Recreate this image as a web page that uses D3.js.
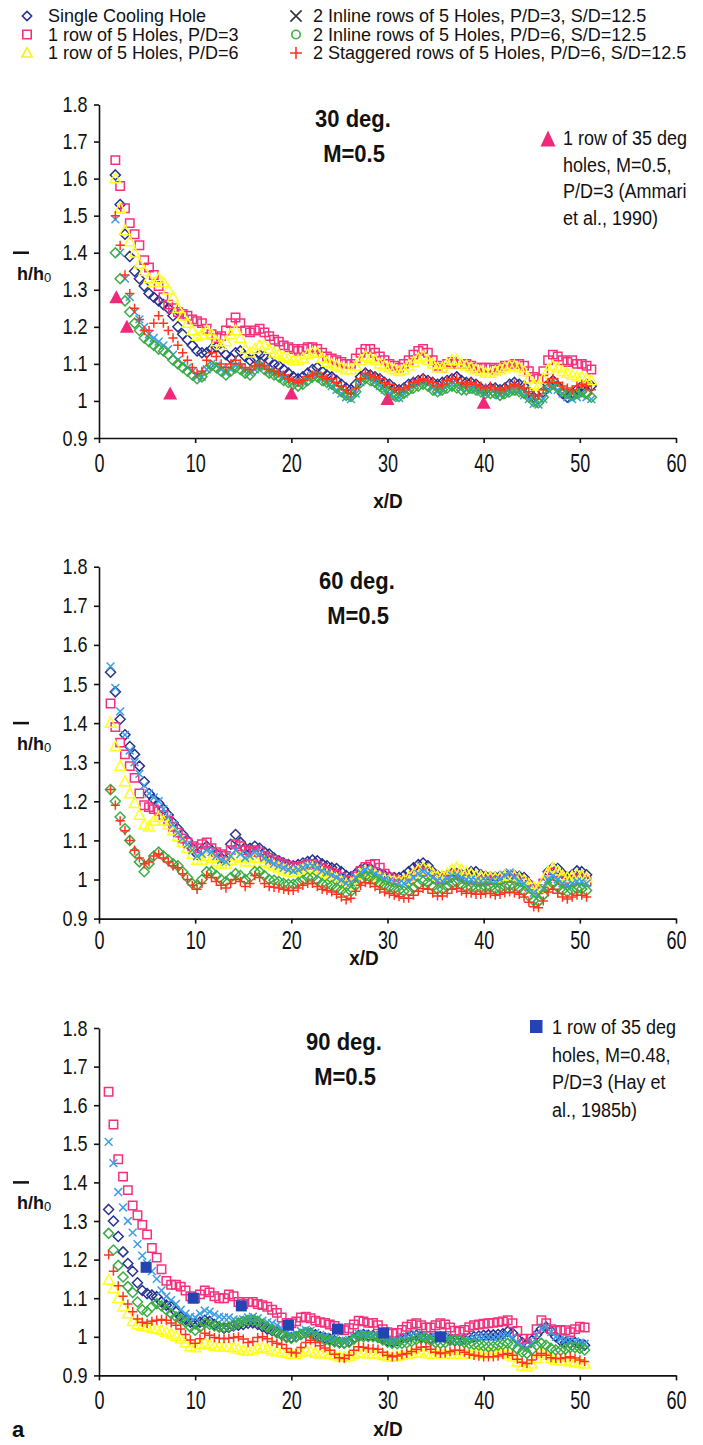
<!DOCTYPE html>
<html>
<head>
<meta charset="utf-8">
<script src="https://cdn.jsdelivr.net/npm/d3@7"></script>
<style>
  body { margin: 0; background: #fff; }
  svg text { font-family: "Liberation Sans", Arial, sans-serif; fill: #111; }
</style>
</head>
<body>
<svg id="chart" width="703" height="1445"></svg>
<script>
// ---- data ----
let seriesNames = ['Single Cooling Hole', '1 row of 5 Holes, P/D=3', '1 row of 5 Holes, P/D=6',
  '2 Inline rows of 5 Holes, P/D=3, S/D=12.5', '2 Inline rows of 5 Holes, P/D=6, S/D=12.5',
  '2 Staggered rows of 5 Holes, P/D=6, S/D=12.5']

let xTicks = [0, 10, 20, 30, 40, 50, 60]
let yTicks = [0.9, 1, 1.1, 1.2, 1.3, 1.4, 1.5, 1.6, 1.7, 1.8]
let yTickLabels = ['0.9', '1', '1.1', '1.2', '1.3', '1.4', '1.5', '1.6', '1.7', '1.8']

// first x/D of each panel's measurement grid (step 0.5)
let gridStart = [1.7, 1.2, 1.0]
let gridStep = 0.5

// 30 deg
let single30 = [1.61,1.53,1.45,1.39,1.35,1.33,1.31,1.29,1.28,1.27, 1.26,1.25,1.23,1.20,1.18,1.165,1.15,1.135,1.13,1.13, 1.14,1.145,1.14,1.125,1.115,1.13,1.135,1.12,1.11,1.115, 1.125,1.12,1.11,1.10,1.095,1.085,1.075,1.065,1.06,1.065, 1.075,1.085,1.09,1.08,1.07,1.065,1.055,1.045,1.035,1.03, 1.045,1.065,1.075,1.07,1.065,1.06,1.05,1.045,1.035,1.03, 1.035,1.045,1.05,1.055,1.06,1.055,1.05,1.045,1.05,1.055, 1.06,1.065,1.055,1.05,1.05,1.045,1.035,1.03,1.035,1.035, 1.03,1.035,1.045,1.05,1.045,1.04,1.025,1.01,1.005,1.025, 1.045,1.055,1.04,1.02,1.01,1.02,1.03,1.04,1.045,1.04]
let row3_30 = [1.65,1.58,1.52,1.48,1.45,1.42,1.38,1.36,1.34,1.31, 1.28,1.26,1.25,1.24,1.235,1.23,1.22,1.215,1.21,1.195, 1.18,1.17,1.175,1.19,1.21,1.225,1.21,1.19,1.185,1.19, 1.195,1.185,1.175,1.165,1.16,1.15,1.145,1.14,1.135,1.14, 1.145,1.145,1.14,1.13,1.12,1.115,1.11,1.105,1.10,1.10, 1.115,1.13,1.14,1.14,1.13,1.12,1.11,1.10,1.095,1.09, 1.10,1.11,1.125,1.135,1.14,1.13,1.11,1.095,1.09,1.10, 1.105,1.10,1.10,1.10,1.095,1.09,1.09,1.09,1.09,1.085, 1.09,1.095,1.095,1.10,1.10,1.095,1.08,1.065,1.06,1.08, 1.11,1.125,1.12,1.11,1.105,1.11,1.10,1.10,1.095,1.085]
let row6_30 = [1.60,1.52,1.46,1.43,1.40,1.37,1.35,1.33,1.32,1.33, 1.32,1.30,1.28,1.25,1.23,1.21,1.19,1.175,1.18,1.19, 1.18,1.16,1.15,1.16,1.18,1.19,1.17,1.14,1.13,1.14, 1.15,1.15,1.14,1.13,1.125,1.12,1.115,1.11,1.11,1.115, 1.125,1.13,1.13,1.115,1.105,1.10,1.095,1.09,1.085,1.085, 1.095,1.11,1.12,1.115,1.11,1.10,1.095,1.09,1.085,1.08, 1.085,1.095,1.105,1.115,1.12,1.11,1.10,1.09,1.09,1.10, 1.11,1.11,1.10,1.095,1.09,1.085,1.08,1.075,1.075,1.08, 1.085,1.09,1.095,1.095,1.09,1.08,1.06,1.045,1.04,1.06, 1.085,1.095,1.09,1.08,1.075,1.07,1.065,1.065,1.06,1.055]
let inline3_30 = [1.49,1.40,1.33,1.28,1.24,1.22,1.20,1.18,1.17,1.16, 1.15,1.14,1.125,1.11,1.10,1.09,1.08,1.065,1.065,1.085, 1.10,1.095,1.085,1.075,1.085,1.095,1.09,1.08,1.075,1.085, 1.095,1.09,1.08,1.075,1.07,1.06,1.055,1.05,1.045,1.05, 1.06,1.07,1.07,1.06,1.05,1.04,1.03,1.02,1.01,1.005, 1.02,1.05,1.065,1.06,1.05,1.04,1.03,1.02,1.01,1.008, 1.02,1.03,1.04,1.045,1.05,1.045,1.035,1.025,1.03,1.04, 1.045,1.04,1.035,1.03,1.035,1.03,1.025,1.02,1.02,1.02, 1.015,1.02,1.025,1.03,1.025,1.015,1.005,0.992,0.99,1.005, 1.03,1.04,1.03,1.02,1.01,1.005,1.01,1.015,1.01,1.005]
let inline6_30 = [1.40,1.33,1.27,1.24,1.21,1.19,1.17,1.16,1.15,1.14, 1.135,1.125,1.11,1.10,1.09,1.08,1.07,1.06,1.065,1.085, 1.095,1.09,1.08,1.07,1.08,1.09,1.085,1.075,1.07,1.085, 1.095,1.085,1.075,1.07,1.065,1.055,1.05,1.045,1.04,1.045, 1.055,1.065,1.065,1.055,1.05,1.045,1.035,1.025,1.015,1.012, 1.025,1.05,1.06,1.055,1.05,1.04,1.03,1.025,1.015,1.012, 1.02,1.03,1.035,1.04,1.045,1.04,1.03,1.025,1.03,1.035, 1.04,1.035,1.03,1.03,1.035,1.03,1.025,1.02,1.02,1.02, 1.015,1.02,1.025,1.03,1.025,1.02,1.01,0.998,0.995,1.01, 1.035,1.045,1.035,1.025,1.02,1.015,1.02,1.025,1.02,1.01]
let stag30 = [1.50,1.42,1.34,1.29,1.25,1.22,1.19,1.19,1.21,1.23, 1.21,1.19,1.17,1.15,1.13,1.11,1.09,1.075,1.08,1.11, 1.13,1.12,1.10,1.09,1.10,1.11,1.10,1.09,1.085,1.095, 1.10,1.095,1.085,1.08,1.075,1.07,1.06,1.055,1.05,1.055, 1.065,1.07,1.075,1.065,1.06,1.06,1.05,1.04,1.03,1.02, 1.035,1.06,1.075,1.07,1.065,1.06,1.05,1.045,1.035,1.03, 1.035,1.04,1.05,1.055,1.06,1.055,1.05,1.04,1.045,1.055, 1.06,1.06,1.05,1.045,1.05,1.045,1.04,1.035,1.04,1.035, 1.03,1.035,1.04,1.045,1.04,1.035,1.025,1.015,1.015,1.03, 1.05,1.06,1.05,1.04,1.035,1.03,1.04,1.045,1.04,1.03]

// 60 deg
let single60 = [1.53,1.48,1.41,1.37,1.34,1.32,1.29,1.25,1.22,1.205, 1.195,1.18,1.165,1.145,1.13,1.115,1.10,1.08,1.065,1.075, 1.085,1.075,1.065,1.055,1.05,1.09,1.115,1.095,1.08,1.08, 1.085,1.08,1.07,1.065,1.055,1.048,1.042,1.038,1.035,1.038, 1.042,1.046,1.05,1.048,1.04,1.035,1.03,1.028,1.02,1.01, 1.007,1.015,1.025,1.03,1.028,1.02,1.015,1.01,1.007,1.005, 1.005,1.01,1.02,1.03,1.038,1.042,1.035,1.02,1.01,1.008, 1.012,1.015,1.015,1.012,1.015,1.02,1.02,1.012,1.008,1.007, 1.006,1.008,1.01,1.012,1.01,1.008,1.005,0.99,0.978,0.973, 0.99,1.02,1.03,1.028,1.015,1.007,1.012,1.022,1.02,1.012]
let row3_60 = [1.45,1.39,1.35,1.32,1.29,1.26,1.22,1.19,1.185,1.18, 1.175,1.165,1.15,1.135,1.12,1.105,1.095,1.085,1.08,1.09, 1.095,1.08,1.07,1.065,1.06,1.075,1.09,1.085,1.075,1.07, 1.075,1.07,1.06,1.055,1.05,1.045,1.04,1.035,1.03,1.032, 1.035,1.04,1.04,1.035,1.028,1.022,1.018,1.012,1.005,0.998, 0.996,1.008,1.022,1.032,1.038,1.04,1.03,1.015,1.005,1.0, 0.996,0.996,1.0,1.01,1.02,1.025,1.02,1.01,1.002,1.0, 1.005,1.012,1.015,1.008,1.002,1.0,0.998,0.996,0.998,1.0, 0.998,1.0,1.004,1.006,1.004,1.0,0.994,0.984,0.976,0.975, 0.99,1.01,1.018,1.008,0.998,0.992,0.995,1.0,1.0,0.995]
let row6_60 = [1.40,1.34,1.29,1.25,1.22,1.195,1.165,1.14,1.135,1.15, 1.16,1.15,1.14,1.125,1.11,1.095,1.08,1.065,1.05,1.05, 1.06,1.055,1.045,1.04,1.04,1.05,1.06,1.055,1.045,1.045, 1.055,1.055,1.045,1.04,1.035,1.03,1.025,1.02,1.018,1.02, 1.025,1.03,1.03,1.025,1.018,1.012,1.008,1.002,0.995,0.988, 0.99,1.0,1.012,1.02,1.018,1.012,1.006,1.0,0.998,0.995, 0.995,0.998,1.005,1.015,1.025,1.03,1.025,1.015,1.008,1.008, 1.015,1.025,1.03,1.025,1.018,1.015,1.01,1.008,1.006,1.005, 1.004,1.005,1.008,1.01,1.008,1.004,0.998,0.988,0.98,0.978, 0.995,1.02,1.03,1.022,1.01,1.005,1.008,1.012,1.01,1.005]
let inline3_60 = [1.545,1.49,1.43,1.37,1.33,1.30,1.27,1.24,1.22,1.21, 1.20,1.18,1.16,1.14,1.12,1.105,1.09,1.075,1.06,1.065, 1.075,1.07,1.06,1.05,1.045,1.06,1.075,1.065,1.055,1.06, 1.07,1.065,1.055,1.048,1.04,1.035,1.03,1.025,1.022,1.025, 1.03,1.035,1.035,1.03,1.022,1.018,1.012,1.005,0.998,0.99, 0.992,1.005,1.018,1.025,1.022,1.015,1.008,1.0,0.996,0.992, 0.99,0.99,0.995,1.005,1.015,1.02,1.015,1.005,0.998,0.996, 1.002,1.01,1.012,1.005,1.0,1.0,0.998,0.996,0.998,0.998, 0.996,1.0,1.01,1.018,1.005,0.996,0.99,0.978,0.966,0.962, 0.978,1.0,1.01,1.0,0.99,0.986,0.99,0.995,0.995,0.99]
let inline6_60 = [1.23,1.20,1.16,1.13,1.10,1.07,1.045,1.02,1.04,1.06, 1.07,1.06,1.05,1.04,1.035,1.02,1.005,0.99,0.985,1.0, 1.02,1.02,1.01,1.0,0.995,1.005,1.015,1.01,1.0,1.005, 1.02,1.02,1.01,1.0,0.998,0.995,0.99,0.988,0.988,0.992, 0.998,1.005,1.005,0.998,0.99,0.988,0.984,0.978,0.972,0.966, 0.97,0.985,1.0,1.008,1.005,0.998,0.99,0.985,0.98,0.976, 0.972,0.97,0.97,0.978,0.988,0.995,0.992,0.982,0.975,0.975, 0.982,0.99,0.993,0.986,0.98,0.98,0.978,0.978,0.98,0.98, 0.976,0.978,0.982,0.984,0.982,0.978,0.97,0.958,0.946,0.944, 0.96,0.982,0.99,0.98,0.972,0.968,0.972,0.976,0.976,0.972]
let stag60 = [1.23,1.19,1.15,1.125,1.10,1.075,1.055,1.04,1.045,1.06, 1.065,1.055,1.045,1.035,1.03,1.015,1.0,0.985,0.975,0.99, 1.01,1.005,0.995,0.985,0.978,0.99,1.0,0.995,0.982,0.99, 1.01,1.005,0.99,0.982,0.98,0.978,0.975,0.972,0.972,0.978, 0.985,0.99,0.99,0.982,0.975,0.972,0.968,0.962,0.955,0.948, 0.952,0.97,0.985,0.992,0.99,0.982,0.975,0.968,0.964,0.96, 0.956,0.952,0.952,0.96,0.97,0.977,0.975,0.965,0.958,0.958, 0.965,0.975,0.977,0.97,0.965,0.965,0.962,0.962,0.965,0.964, 0.96,0.962,0.966,0.968,0.966,0.962,0.955,0.942,0.93,0.928, 0.945,0.968,0.975,0.965,0.955,0.95,0.955,0.96,0.96,0.955]

// 90 deg
let single90 = [1.33,1.30,1.26,1.22,1.19,1.17,1.14,1.12,1.112,1.108, 1.104,1.09,1.082,1.078,1.065,1.052,1.045,1.038,1.034,1.038, 1.043,1.04,1.032,1.026,1.022,1.024,1.028,1.03,1.032,1.035, 1.036,1.032,1.026,1.02,1.016,1.012,1.006,1.0,0.998,1.0, 1.006,1.01,1.01,1.005,1.0,0.997,0.994,0.99,0.986,0.984, 0.988,0.996,1.004,1.006,1.004,1.003,1.0,0.996,0.99,0.988, 0.99,0.995,0.998,1.002,1.004,1.0,0.996,0.996,0.998,1.0, 0.998,0.993,0.99,0.99,0.994,0.998,1.0,1.002,1.004,1.005, 1.005,1.006,1.008,1.014,1.01,0.995,0.985,0.982,0.99,1.005, 1.02,1.025,1.015,1.0,0.99,0.985,0.983,0.985,0.98,0.978]
let row3_90 = [1.635,1.55,1.46,1.415,1.38,1.34,1.315,1.29,1.265,1.23, 1.205,1.175,1.145,1.135,1.135,1.13,1.12,1.105,1.10,1.11, 1.12,1.115,1.105,1.10,1.10,1.11,1.105,1.09,1.085,1.09, 1.09,1.085,1.082,1.078,1.07,1.062,1.05,1.036,1.035,1.04, 1.05,1.052,1.048,1.042,1.038,1.036,1.032,1.028,1.02,1.017, 1.022,1.032,1.042,1.04,1.036,1.036,1.03,1.02,1.012,1.008, 1.01,1.018,1.026,1.032,1.035,1.03,1.024,1.024,1.03,1.035, 1.032,1.024,1.016,1.013,1.018,1.025,1.03,1.032,1.034,1.035, 1.036,1.038,1.04,1.043,1.035,1.015,0.995,0.983,0.995,1.02, 1.043,1.035,1.02,1.016,1.018,1.017,1.012,1.02,1.026,1.024]
let row6_90 = [1.147,1.125,1.10,1.078,1.06,1.04,1.032,1.028,1.025,1.022, 1.02,1.017,1.012,1.008,1.002,0.995,0.985,0.975,0.972,0.98, 0.984,0.98,0.976,0.974,0.974,0.974,0.972,0.968,0.965,0.963, 0.966,0.97,0.972,0.968,0.964,0.962,0.96,0.957,0.955,0.955, 0.96,0.963,0.962,0.958,0.956,0.957,0.955,0.952,0.948,0.947, 0.95,0.955,0.958,0.958,0.956,0.957,0.956,0.952,0.949,0.948, 0.95,0.953,0.955,0.957,0.958,0.958,0.957,0.955,0.956,0.957, 0.956,0.955,0.955,0.955,0.956,0.957,0.957,0.957,0.956,0.957, 0.957,0.958,0.958,0.955,0.948,0.935,0.925,0.922,0.93,0.945, 0.957,0.952,0.944,0.94,0.938,0.938,0.936,0.934,0.932,0.93]
let inline3_90 = [1.505,1.45,1.375,1.335,1.30,1.27,1.24,1.21,1.19,1.17, 1.15,1.12,1.105,1.095,1.085,1.07,1.06,1.052,1.05,1.06, 1.068,1.065,1.058,1.052,1.05,1.05,1.045,1.042,1.045,1.05, 1.052,1.048,1.042,1.038,1.035,1.03,1.022,1.012,1.005,1.008, 1.015,1.018,1.016,1.01,1.005,1.0,0.998,0.995,0.99,0.988, 0.992,1.0,1.008,1.008,1.005,1.004,1.0,0.995,0.99,0.988, 0.99,0.995,1.0,1.004,1.006,1.002,0.998,0.998,1.0,1.002, 1.0,0.995,0.99,0.988,0.99,0.995,0.998,1.0,1.0,1.0, 0.998,1.0,1.002,1.005,0.998,0.985,0.975,0.972,0.985,1.005, 1.022,1.025,1.012,1.0,0.995,0.992,0.99,0.988,0.985,0.982]
let inline6_90 = [1.268,1.225,1.185,1.155,1.13,1.115,1.09,1.07,1.065,1.078, 1.086,1.08,1.07,1.06,1.052,1.045,1.038,1.025,1.017,1.025, 1.035,1.032,1.028,1.025,1.025,1.026,1.03,1.036,1.04,1.043, 1.043,1.04,1.032,1.025,1.018,1.01,1.004,0.998,0.996,1.0, 1.006,1.009,1.008,1.0,0.995,0.991,0.99,0.987,0.984,0.983, 0.986,0.994,1.0,1.0,1.0,1.0,0.998,0.992,0.986,0.983, 0.982,0.983,0.984,0.988,0.993,0.996,0.996,0.99,0.985,0.983, 0.985,0.99,0.992,0.99,0.985,0.982,0.98,0.978,0.976,0.974, 0.975,0.978,0.98,0.983,0.978,0.968,0.96,0.957,0.966,0.978, 0.983,0.978,0.97,0.966,0.965,0.968,0.972,0.972,0.97,0.966]
let stag90 = [1.212,1.17,1.132,1.105,1.085,1.065,1.046,1.038,1.035,1.04, 1.043,1.045,1.043,1.036,1.03,1.02,1.006,0.992,0.983,0.995, 1.009,1.004,0.998,0.996,0.995,0.996,0.998,1.0,0.994,0.985, 0.988,0.998,1.0,0.995,0.988,0.983,0.98,0.97,0.96,0.958, 0.972,0.985,0.991,0.985,0.977,0.971,0.965,0.955,0.946,0.944, 0.952,0.965,0.974,0.973,0.97,0.97,0.968,0.96,0.952,0.948, 0.95,0.954,0.957,0.962,0.968,0.973,0.974,0.968,0.96,0.957, 0.958,0.962,0.965,0.965,0.96,0.955,0.952,0.95,0.948,0.948, 0.948,0.95,0.954,0.957,0.952,0.942,0.934,0.931,0.94,0.952, 0.957,0.952,0.946,0.944,0.944,0.946,0.948,0.945,0.94,0.936]

// literature comparison points
let ammariX = [1.8, 2.9, 7.4, 20, 30, 40]
let ammariY = [1.28, 1.20, 1.02, 1.02, 1.005, 0.995]
let ammariText = ['1 row of 35 deg', 'holes, M=0.5,', 'P/D=3 (Ammari', 'et al., 1990)']
let hayX = [4.9, 9.8, 14.8, 19.7, 24.8, 29.6, 35.5]
let hayY = [1.18, 1.10, 1.08, 1.03, 1.02, 1.01, 1.00]
let hayText = ['1 row of 35 deg', 'holes, M=0.48,', 'P/D=3 (Hay et', 'al., 1985b)']

// ---- drawing ----
let svg = d3.select('#chart')

let colors = ['#25328f', '#f5307c', '#ffff22', '#3b9fe6', '#3aad44', '#ff3520']
let shapes = ['diamond', 'square', 'triangle', 'times', 'diamond', 'plus']

let shapePath = (shape, r) => {
    if (shape === 'diamond') return `M0,${-r}L${r},0L0,${r}L${-r},0Z`
    if (shape === 'square') return `M${-r},${-r}h${2 * r}v${2 * r}h${-2 * r}Z`
    if (shape === 'triangle') return `M0,${-r}L${r * 0.95},${r * 0.75}L${-r * 0.95},${r * 0.75}Z`
    if (shape === 'times') return `M${-r},${-r}L${r},${r}M${r},${-r}L${-r},${r}`
    if (shape === 'plus') return `M${-r},0H${r}M0,${-r}V${r}`
    if (shape === 'circle') return `M${r},0A${r},${r} 0 1,1 ${-r},0A${r},${r} 0 1,1 ${r},0Z`
}
let sizes = { diamond: 5, square: 4.2, triangle: 5.6, times: 3.9, plus: 4.6, circle: 4 }

let addText = (g, x, y, str, opt) => {
    return g.append('text')
        .attr('transform', `translate(${x},${y}) scale(${opt.sx || 1},${opt.sy || 1})`)
        .attr('text-anchor', opt.anchor || 'start')
        .attr('font-size', opt.size)
        .attr('font-weight', opt.weight || 'normal')
        .text(str)
}

// top legend
let legendG = svg.append('g')
let legendShapes = ['diamond', 'square', 'triangle', 'times', 'circle', 'plus']
let legendColors = ['#25328f', '#f5307c', '#f2f21a', '#333333', '#3aad44', '#ff3520']
let legendSize = [4.6, 4.2, 5.4, 5.6, 4.2, 6]
seriesNames.forEach((name, i) => {
    let col = i < 3 ? 0 : 1
    let row = i % 3
    let mx = col === 0 ? 27 : 296
    let my = 16 + row * 18.5
    legendG.append('path')
        .attr('d', shapePath(legendShapes[i], legendSize[i]))
        .attr('transform', `translate(${mx},${my})`)
        .attr('fill', 'none')
        .attr('stroke', legendColors[i])
        .attr('stroke-width', 1.6)
    addText(legendG, col === 0 ? 48 : 313, my + 6, name, { size: 18 })
})

let x = d3.scaleLinear().domain([0, 60]).range([99, 676])

let panels = [
    { series: [single30, row3_30, row6_30, inline3_30, inline6_30, stag30], top: 104.5, bottom: 438,
      title: ['30 deg.', 'M=0.5'], titleX: 353, labelOff: 34, xdX: 388, xdOff: 70 },
    { series: [single60, row3_60, row6_60, inline3_60, inline6_60, stag60], top: 566.7, bottom: 918.6,
      title: ['60 deg.', 'M=0.5'], titleX: 357, labelOff: 30, xdX: 364, xdOff: 46 },
    { series: [single90, row3_90, row6_90, inline3_90, inline6_90, stag90], top: 1028, bottom: 1375.4,
      title: ['90 deg.', 'M=0.5'], titleX: 344, labelOff: 34, xdX: 388, xdOff: 61 }
]

panels.forEach((p, pi) => {
    let g = svg.append('g')
    let y = d3.scaleLinear().domain([0.9, 1.8]).range([p.bottom, p.top])

    // markers, series in legend order (last drawn on top)
    p.series.forEach((vals, si) => {
        let pts = vals.map((v, k) => [gridStart[pi] + gridStep * k, v])
        g.append('g').selectAll('path')
            .data(pts)
            .enter()
            .append('path')
            .attr('d', shapePath(shapes[si], sizes[shapes[si]]))
            .attr('transform', (d) => 'translate(' + x(d[0]) + ',' + y(d[1]) + ')')
            .attr('fill', 'none')
            .attr('stroke', colors[si])
            .attr('stroke-width', 1.5)
    })

    // literature points
    if (pi === 0) {
        g.append('g').selectAll('path')
            .data(ammariX.map((d, i) => [d, ammariY[i]]))
            .enter().append('path')
            .attr('d', `M0,-7L7,6L-7,6Z`)
            .attr('transform', (d) => 'translate(' + x(d[0]) + ',' + y(d[1]) + ')')
            .attr('fill', '#f0287a')
        g.append('path').attr('d', 'M0,-8.5L7.5,7.5L-7.5,7.5Z')
            .attr('transform', 'translate(548,139)').attr('fill', '#f0287a')
        ammariText.forEach((t, i) => addText(g, 563, 145 + i * 26.7, t, { size: 18, sy: 1.12 }))
    }
    if (pi === 2) {
        g.append('g').selectAll('rect')
            .data(hayX.map((d, i) => [d, hayY[i]]))
            .enter().append('rect')
            .attr('x', (d) => x(d[0]) - 5.5)
            .attr('y', (d) => y(d[1]) - 5.5)
            .attr('width', 11).attr('height', 11)
            .attr('fill', '#2344b2')
        g.append('rect').attr('x', 530).attr('y', 1020).attr('width', 12.5).attr('height', 13).attr('fill', '#2344b2')
        hayText.forEach((t, i) => addText(g, 552, 1034 + i * 27.5, t, { size: 18, sy: 1.12 }))
    }

    // axes
    let yAxis = g.append('g')
        .attr('transform', 'translate(' + x(0) + ',0)')
        .call(d3.axisLeft(y).tickValues(yTicks).tickFormat((d, i) => yTickLabels[i])
            .tickSize(5).tickSizeOuter(0).tickPadding(7))
    let xAxis = g.append('g')
        .attr('transform', 'translate(0,' + p.bottom + ')')
        .call(d3.axisBottom(x).tickValues(xTicks).tickSize(5).tickSizeOuter(0))
    ;[yAxis, xAxis].forEach((a) => {
        a.attr('font-family', null).attr('font-size', null).attr('color', '#111')
        a.selectAll('path, line').attr('stroke-width', 1.6)
    })
    yAxis.selectAll('.tick text')
        .attr('font-size', 19)
        .attr('transform', 'scale(0.95,1.15)')
    xAxis.selectAll('.tick text')
        .attr('y', null).attr('dy', null)
        .attr('font-size', 19)
        .attr('transform', 'translate(0,' + p.labelOff + ') scale(0.95,1.35)')

    // titles
    addText(g, p.titleX, p.top + 22, p.title[0], { size: 22, weight: 'bold', sy: 1.12, anchor: 'middle' })
    addText(g, p.titleX + 1, p.top + 57, p.title[1], { size: 22, weight: 'bold', sy: 1.12, anchor: 'middle' })

    // axis titles
    addText(g, p.xdX, p.bottom + p.xdOff, 'x/D', { size: 19, weight: 'bold', sy: 1.1, anchor: 'middle' })
    let yl = y(1.4)
    g.append('line').attr('x1', 13).attr('x2', 29).attr('y1', yl).attr('y2', yl)
        .attr('stroke', '#111').attr('stroke-width', 2.5)
    addText(g, 17, yl + 27, 'h/h', { size: 18, weight: 'bold' })
    addText(g, 44, yl + 29, '0', { size: 13 })
})

addText(svg, 12, 1437, 'a', { size: 22, weight: 'bold' })
</script>
</body>
</html>
